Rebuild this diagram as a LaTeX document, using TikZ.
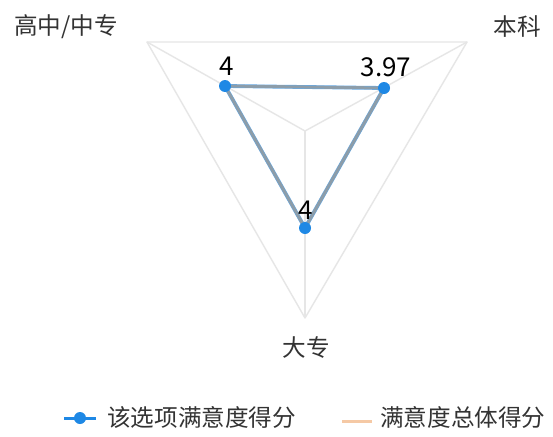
\documentclass[tikz,border=0pt]{standalone}
\usepackage{fontspec}
\newfontfamily\cjk{Noto Sans CJK SC}
\definecolor{gridc}{HTML}{E6E6E6}
\definecolor{dotc}{HTML}{1E88E5}
\definecolor{serc}{HTML}{8C9DAA}
\definecolor{orc}{HTML}{F5C9A5}
\definecolor{labc}{HTML}{333333}
\begin{document}
\begin{tikzpicture}[x=1pt,y=-1pt,
  grid/.style={draw=gridc,line width=1.4pt},
  axlab/.style={font=\cjk\fontsize{23.6}{25}\selectfont,text=labc,inner sep=0pt},
  vallab/.style={font=\cjk\fontsize{26}{28}\selectfont,text=black,inner sep=0pt},
  dot/.style={circle,fill=dotc,inner sep=0pt,minimum size=12pt},
  serline/.style={draw=serc,line width=3pt}]
\useasboundingbox (0,0) rectangle (553,436);
\fill[white] (0,0) rectangle (553,436);
% grid
\coordinate (c) at (305,131);
\coordinate (tl) at (147,42);
\coordinate (tr) at (467,42);
\coordinate (bt) at (305,318);
\draw[grid,line join=round] (tl) -- (tr) -- (bt) -- cycle;
\draw[grid] (c) -- (tl);
\draw[grid] (c) -- (tr);
\draw[grid] (c) -- (bt);
% series
\coordinate (p1) at (225,86);
\coordinate (p2) at (384,88);
\coordinate (p3) at (305,228);
\draw[draw=dotc!70,line width=3.8pt,line join=round] (p1) -- (p2) -- (p3) -- cycle;
\draw[serline,line join=round] (p1) -- (p2) -- (p3) -- cycle;
\node[dot] (d1) at (p1) {};
\node[dot] (d2) at (p2) {};
\node[dot] (d3) at (p3) {};
% values
\node[vallab] (v1) at (227,66) {4};
\node[vallab] (v2) at (386,67) {3.97};
\node[vallab] (v3) at (306,210) {4};
% axis labels
\node[axlab] (a1) at (66,27) {高中/中专};
\node[axlab] (a2) at (517,27) {本科};
\node[axlab] (a3) at (306,348) {大专};
% legend
\coordinate (l1a) at (64,418);
\coordinate (l1b) at (96,418);
\draw[draw=dotc,line width=3pt] (l1a) -- (l1b);
\node[dot,minimum size=12pt] (ld) at (80,418) {};
\node[axlab,anchor=west] (lt1) at (107,417) {该选项满意度得分};
\coordinate (l2a) at (342,421);
\coordinate (l2b) at (372,421);
\draw[draw=orc,line width=3pt] (l2a) -- (l2b);
\node[axlab,anchor=west] (lt2) at (380,417) {满意度总体得分};
\end{tikzpicture}
\end{document}
